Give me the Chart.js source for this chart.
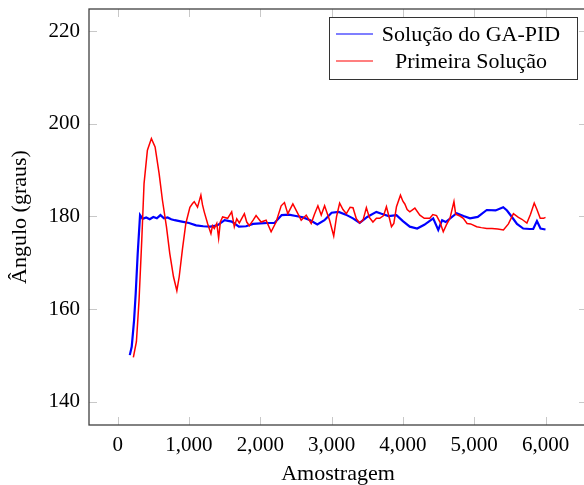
<!DOCTYPE html>
<html>
<head>
<meta charset="utf-8">
<script src="https://cdn.jsdelivr.net/npm/chart.js@4"></script>
<style>
  html, body { margin: 0; padding: 0; background: #fff; overflow: hidden; }
  #wrap { width: 590px; height: 485px; }
</style>
</head>
<body>
<div id="wrap"><canvas id="chart" width="590" height="485"></canvas></div>
<script>
// ---------- data ----------
const xTicks = [0, 1000, 2000, 3000, 4000, 5000, 6000];
const yTicks = [140, 160, 180, 200, 220];

const seriesLabels = ["Solução do GA-PID", "Primeira Solução"];

// GA-PID
const gaSamples = [170, 197, 230, 253, 281, 314, 350, 400, 450, 500, 550, 600, 650, 700, 750, 800, 900, 1000,
  1100, 1200, 1300, 1400, 1500, 1600, 1700, 1800, 1900, 2000, 2100, 2200, 2300, 2400, 2500, 2600, 2700, 2800,
  2900, 3000, 3100, 3200, 3300, 3394, 3500, 3628, 3700, 3800, 3910, 4000, 4097, 4200, 4300, 4425, 4496, 4550,
  4600, 4754, 4850, 4941, 5050, 5176, 5300, 5407, 5460, 5524, 5600, 5688, 5780, 5828, 5880, 5930, 6000];
const gaAngle = [150.1, 151.9, 157.6, 163.4, 172, 180.3, 179.5, 179.8, 179.4, 179.9, 179.6, 180.3, 179.6, 179.8,
  179.4, 179.2, 178.9, 178.6, 178.1, 177.9, 177.8, 178.1, 179.2, 178.9, 177.8, 177.9, 178.4, 178.5, 178.6, 178.6,
  180.3, 180.4, 180.1, 179.8, 179.2, 178.3, 179.2, 180.8, 181, 180.4, 179.6, 178.6, 179.9, 181, 180.6, 180.1,
  180.3, 179, 177.8, 177.4, 178.2, 179.6, 177.1, 179.2, 178.8, 180.7, 180.1, 179.6, 179.9, 181.4, 181.3, 182,
  181.3, 180, 178.4, 177.4, 177.3, 177.3, 179, 177.4, 177.2];

// Primeira Solução
const firstSamples = [220, 263, 300, 338, 370, 417, 473, 525, 581, 628, 684, 731, 783, 830, 863, 909, 956, 1013,
  1050, 1074, 1120, 1167, 1190, 1214, 1261, 1308, 1330, 1355, 1390, 1416, 1440, 1472, 1542, 1599, 1636, 1670,
  1706, 1777, 1810, 1847, 1900, 1941, 2011, 2082, 2152, 2222, 2293, 2339, 2386, 2457, 2527, 2574, 2644, 2714,
  2760, 2808, 2855, 2902, 2972, 3030, 3070, 3113, 3160, 3207, 3260, 3300, 3347, 3394, 3441, 3488, 3530, 3580,
  3629, 3675, 3730, 3769, 3805, 3840, 3873, 3910, 3966, 4000, 4027, 4060, 4097, 4168, 4238, 4300, 4378, 4420,
  4472, 4520, 4566, 4610, 4660, 4716, 4740, 4800, 4847, 4900, 4950, 5035, 5100, 5176, 5250, 5330, 5410, 5480,
  5550, 5620, 5669, 5739, 5790, 5842, 5880, 5926, 5973, 6000];
const firstAngle = [149.6, 153, 162, 174.9, 187.1, 194.3, 196.8, 195, 189.3, 183.5, 177.8, 172, 167, 164, 167, 173,
  178.5, 182, 182.8, 183.2, 182, 184.6, 182.5, 181, 178.5, 176.3, 178, 177.4, 178.5, 175.3, 178.8, 179.9, 179.6,
  181, 177.8, 179.5, 178.6, 180.6, 178.8, 178, 179.2, 180.2, 178.8, 179.2, 176.7, 178.8, 182.3, 183, 180.6, 182.7,
  180.6, 179.2, 180.3, 178.5, 180.5, 182.3, 180.3, 182.3, 179.2, 175.8, 180, 182.9, 181.5, 180.6, 182, 181.9,
  179.5, 178.6, 179.2, 181.9, 179.8, 178.8, 179.6, 179.6, 180.2, 182.1, 180, 177.8, 178.5, 182.1, 184.6, 183.3,
  182.7, 181.5, 181, 181.8, 180.3, 179.6, 179.6, 180.4, 180.2, 178.8, 176.7, 178.2, 179.6, 183.2, 180.5, 180.1,
  179.6, 178.5, 178.4, 177.8, 177.6, 177.4, 177.4, 177.3, 177.1, 178.4, 180.6, 179.8, 179.4, 178.6, 180.5, 182.9,
  181.5, 179.6, 179.6, 179.8];

const serif = "'Liberation Serif', 'DejaVu Serif', serif";

function toPoints(xs, ys) {
  return xs.map((x, i) => ({ x: x, y: ys[i] }));
}

// pgfplots style box, inward ticks and legend
const pgfAxis = {
  id: "pgfAxis",
  afterDraw(chart) {
    const ctx = chart.ctx;
    const a = chart.chartArea;
    const xs = chart.scales.x, ys = chart.scales.y;
    ctx.save();
    ctx.strokeStyle = "#c8c8c8";
    ctx.lineWidth = 1;
    ctx.beginPath();
    xTicks.forEach(v => {
      const p = Math.round(xs.getPixelForValue(v)) + 0.5;
      ctx.moveTo(p, a.bottom); ctx.lineTo(p, a.bottom - 8);
      ctx.moveTo(p, a.top); ctx.lineTo(p, a.top + 8);
    });
    yTicks.forEach(v => {
      const p = Math.round(ys.getPixelForValue(v)) + 0.5;
      ctx.moveTo(a.left, p); ctx.lineTo(a.left + 8, p);
      ctx.moveTo(a.right, p); ctx.lineTo(a.right - 8, p);
    });
    ctx.stroke();

    ctx.strokeStyle = "#404040";
    ctx.lineWidth = 1.3;
    ctx.strokeRect(a.left, a.top, a.right - a.left, a.bottom - a.top);

    // legend
    const lx = 329, ly = 17, lw = 248, lh = 62;
    ctx.fillStyle = "#fff";
    ctx.fillRect(lx, ly, lw, lh);
    ctx.strokeStyle = "#333";
    ctx.lineWidth = 1;
    ctx.strokeRect(lx + 0.5, ly + 0.5, lw, lh);
    ctx.font = "22px " + serif;
    ctx.textAlign = "center";
    ctx.textBaseline = "middle";
    chart.data.datasets.forEach((ds, i) => {
      const yy = 34 + i * 27;
      ctx.strokeStyle = ds.borderColor;
      ctx.lineWidth = 1.2;
      ctx.beginPath();
      ctx.moveTo(336, yy); ctx.lineTo(373, yy);
      ctx.stroke();
      ctx.fillStyle = "#000";
      ctx.fillText(ds.label, 471, yy + 1);
    });
    ctx.restore();
  }
};

new Chart(document.getElementById("chart").getContext("2d"), {
  type: "line",
  data: {
    datasets: [
      {
        label: seriesLabels[0],
        data: toPoints(gaSamples, gaAngle),
        borderColor: "#0000ff",
        borderWidth: 2.2,
        pointRadius: 0,
        tension: 0,
        order: 1,
      },
      {
        label: seriesLabels[1],
        data: toPoints(firstSamples, firstAngle),
        borderColor: "#ff0000",
        borderWidth: 1.5,
        pointRadius: 0,
        tension: 0,
        order: 0,
      },
    ],
  },
  options: {
    responsive: false,
    animation: false,
    devicePixelRatio: 1,
    layout: { padding: { top: 9, right: 3, left: 0, bottom: 0 } },
    plugins: { legend: { display: false }, tooltip: { enabled: false } },
    scales: {
      x: {
        type: "linear",
        min: -402,
        max: 6582,
        afterBuildTicks: s => { s.ticks = xTicks.map(v => ({ value: v })); },
        afterFit: s => { s.height = 60; s.paddingLeft = 0; s.paddingRight = 0; },
        grid: { display: false, drawTicks: false },
        border: { display: false },
        ticks: {
          padding: 8,
          color: "#000",
          font: { family: serif, size: 21 },
          callback: v => v.toLocaleString("en-US"),
        },
        title: {
          display: true,
          text: "Amostragem",
          color: "#000",
          font: { family: serif, size: 22, lineHeight: 1 },
          padding: { top: 0, bottom: 0 },
        },
      },
      y: {
        min: 135.03,
        max: 224.75,
        afterBuildTicks: s => { s.ticks = yTicks.map(v => ({ value: v })); },
        afterFit: s => { s.width = 89; s.paddingTop = 0; s.paddingBottom = 0; },
        grid: { display: false, drawTicks: false },
        border: { display: false },
        ticks: {
          padding: 9,
          color: "#000",
          font: { family: serif, size: 21 },
        },
        title: {
          display: true,
          text: "Ângulo (graus)",
          color: "#000",
          font: { family: serif, size: 22, lineHeight: 1 },
          padding: { top: 9, bottom: 0 },
        },
      },
    },
  },
  plugins: [pgfAxis],
});
</script>
</body>
</html>
